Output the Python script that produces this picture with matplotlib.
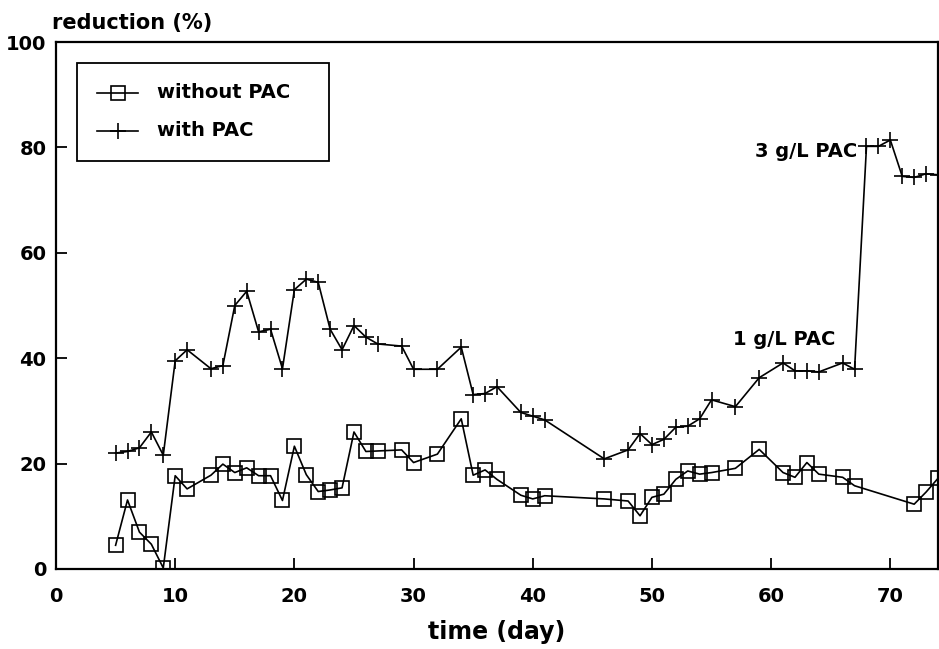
import matplotlib
matplotlib.use("Agg")
import matplotlib.pyplot as plt
from matplotlib.lines import Line2D
from matplotlib.patches import Rectangle

plt.rcParams['font.family'] = ['DejaVu Sans']
plt.rcParams['font.weight'] = 'bold'

# Days on which samples were taken
days_without = [5, 6, 7, 8, 9, 10, 11, 13, 14, 15, 16, 17, 18, 19, 20, 21, 22, 23, 24,
                25, 26, 27, 29, 30, 32, 34, 35, 36, 37, 39, 40, 41, 46, 48, 49, 50, 51,
                52, 53, 54, 55, 57, 59, 61, 62, 63, 64, 66, 67, 72, 73, 74]
red_without = [4.5, 13.1, 7.0, 4.7, 0.2, 17.7, 15.2, 17.8, 19.9, 18.3, 19.2, 17.7, 17.7,
               13.0, 23.3, 17.9, 14.7, 15.0, 15.4, 26.0, 22.3, 22.4, 22.6, 20.2, 21.8,
               28.5, 17.8, 18.8, 17.0, 14.0, 13.3, 13.9, 13.3, 12.9, 10.1, 13.6, 14.2,
               17.0, 18.6, 18.0, 18.3, 19.1, 22.7, 18.3, 17.4, 20.2, 18.0, 17.4, 15.8,
               12.3, 14.6, 17.2]

days_with = [5, 6, 7, 8, 9, 10, 11, 13, 14, 15, 16, 17, 18, 19, 20, 21, 22, 23, 24,
             25, 26, 27, 29, 30, 32, 34, 35, 36, 37, 39, 40, 41, 46, 48, 49, 50, 51,
             52, 53, 54, 55, 57, 59, 61, 62, 63, 64, 66, 67, 68, 69, 70, 71, 72, 73, 74]
red_with = [22.0, 22.3, 23.0, 26.0, 21.6, 39.5, 41.6, 38.0, 38.6, 50.0, 52.7, 45.0, 45.5,
            38.0, 53.0, 55.0, 54.4, 45.5, 41.6, 46.2, 44.0, 42.7, 42.3, 37.9, 37.9,
            42.1, 33.1, 33.3, 34.6, 29.7, 29.0, 28.3, 20.9, 22.6, 25.7, 23.6, 24.6,
            26.9, 27.1, 28.5, 32.1, 30.8, 36.3, 39.1, 37.6, 37.6, 37.4, 39.1, 37.9,
            80.2, 80.2, 81.4, 74.5, 74.3, 75.0, 74.8]

x_ticks = [0, 10, 20, 30, 40, 50, 60, 70]
y_ticks = [0, 20, 40, 60, 80, 100]
series_labels = ["without PAC", "with PAC"]
dose_notes = [("1 g/L PAC", 65.4, 43.6), ("3 g/L PAC", 67.2, 79.2)]

fig = plt.figure(figsize=(9.39, 6.49), dpi=100)
ax = fig.add_axes([56 / 939, 80 / 649, 882 / 939, 527 / 649])

line_kw = dict(color='black', linewidth=1.2, markeredgewidth=1.2)
ax.plot(days_without, red_without, marker='s', markersize=9.5,
        markerfacecolor='none', markeredgecolor='black', **line_kw)
ax.plot(days_with, red_with, marker='+', markersize=12, **line_kw)

ax.set_xlim(0, 74)
ax.set_ylim(0, 100)
ax.set_xticks(x_ticks)
ax.set_yticks(y_ticks)
for s in ax.spines.values():
    s.set_linewidth(1.6)
ax.tick_params(axis='both', direction='in', length=8, width=1.3,
               labelsize=14)
ax.tick_params(axis='x', pad=13)
ax.tick_params(axis='y', pad=7)
for lab in ax.get_xticklabels() + ax.get_yticklabels():
    lab.set_fontweight('bold')

ax.set_xlabel("time (day)", fontsize=17, fontweight='bold', labelpad=10)
ax.text(-0.004, 1.037, "reduction (%)", transform=ax.transAxes,
        ha='left', va='center', fontsize=15, fontweight='bold')

for txt, xr, yv in dose_notes:
    ax.text(xr, yv, txt, ha='right', va='center', fontsize=14, fontweight='bold')

# Legend box with sample handles
ax.add_patch(Rectangle((0.0235, 0.775), 0.2865, 0.186, transform=ax.transAxes,
                       fill=False, edgecolor='black', linewidth=1.3, zorder=5))
row_y = [(569 - 92.7) / 527, (569 - 131) / 527]
hx0, hx1 = (96.7 - 56) / 882, (138.3 - 56) / 882
tx = (156.7 - 56) / 882
for ry, mk, ms, lab in zip(row_y, ['s', '+'], [9.5, 12], series_labels):
    ax.add_line(Line2D([hx0, hx1], [ry, ry], transform=ax.transAxes, color='black',
                       linewidth=1.2, zorder=6))
    ax.add_line(Line2D([(hx0 + hx1) / 2], [ry], transform=ax.transAxes, marker=mk,
                       markersize=ms, markerfacecolor='none', markeredgecolor='black',
                       markeredgewidth=1.2, linestyle='none', zorder=6))
    ax.text(tx, ry, lab, transform=ax.transAxes, ha='left', va='center',
            fontsize=14, fontweight='bold', zorder=6)

fig.savefig("out.png", dpi=100)
